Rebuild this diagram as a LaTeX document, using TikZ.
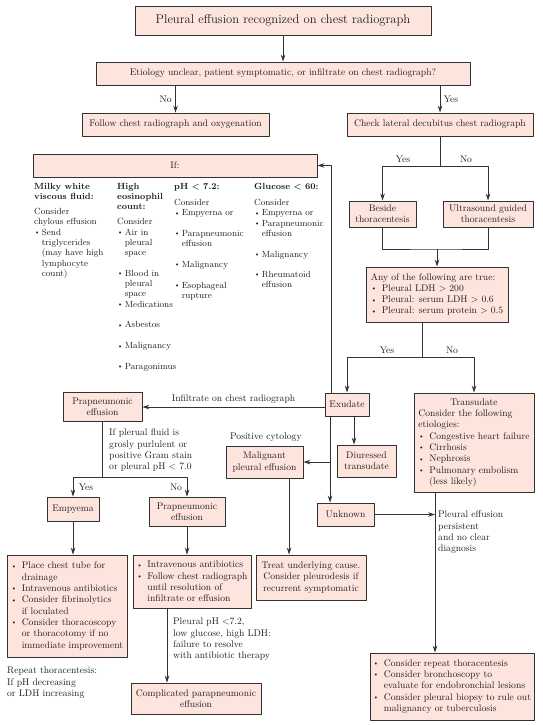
\documentclass[tikz,border=0pt]{standalone}
\usepackage{xcolor}
\usetikzlibrary{arrows.meta}
\definecolor{boxfill}{RGB}{253,229,222}
\definecolor{boxline}{RGB}{50,50,50}
\definecolor{ink}{RGB}{30,30,30}
\newcommand\boxfont{\fontsize{9.6}{11.3}\selectfont}
\newcommand\colfont{\fontsize{8.9}{10.3}\selectfont}
\newcommand\bul{\raisebox{.15ex}{\scriptsize\textbullet}\enspace}
\newcommand\ind{\hphantom{\bul}}
\newcommand\cbul{\raisebox{.15ex}{\scriptsize\textbullet}\,}
\newcommand\cind{\hphantom{\cbul}}
\begin{document}
\begin{tikzpicture}[x=1pt, y=-1pt, >={Stealth[length=7pt, width=4.6pt]}, line join=round, font=\boxfont, text=ink]
	\tikzset{box/.style={draw=boxline, fill=boxfill, line width=.95pt, inner sep=2pt, align=center},
		conn/.style={draw=boxline, line width=.95pt},
		txt/.style={inner sep=0pt, align=left, anchor=north west},
		coltxt/.style={txt, font=\colfont}}
	\useasboundingbox (0,0) rectangle (543,725);
	\node[box, minimum width=296pt, minimum height=29pt, font=\fontsize{12.6}{15}\selectfont] (title) at (283,20.5) {Pleural effusion recognized on chest radiograph};
	\node[box, minimum width=374pt, minimum height=23pt] (etio) at (283,73.5) {Etiology unclear, patient symptomatic, or infiltrate on chest radiograph?};
	\node[box, minimum width=187pt, minimum height=23pt] (follow) at (175.5,124.5) {Follow chest radiograph and oxygenation};
	\node[box, minimum width=186pt, minimum height=23pt] (check) at (440,124.5) {Check lateral decubitus chest radiograph};
	\node[box, minimum width=284pt, minimum height=23pt] (iff) at (175,165.5) {If:};
	\node[box, minimum width=67pt, minimum height=26pt] (beside) at (382.5,214) {Beside\\thoracentesis};
	\node[box, minimum width=90pt, minimum height=26pt] (ultra) at (488,214) {Ultrasound guided\\thoracentesis};
	\node[box, minimum width=142pt, minimum height=55pt, align=left] (any) at (437,294.5) {Any of the following are true:\\\bul Pleural LDH > 200\\\bul Pleural: serum LDH > 0.6\\\bul Pleural: serum protein > 0.5};
	\node[box, minimum width=44pt, minimum height=23pt] (exud) at (347,404.5) {Exudate};
	\node[box, minimum width=120pt, minimum height=99pt] (trans) at (474,442.5) {\begin{tabular}{@{}l@{}}\multicolumn{1}{@{}c@{}}{Transudate}\\Consider the following\\etiologies:\\\bul Congestive heart failure\\\bul Cirrhosis\\\bul Nephrosis\\\bul Pulmonary embolism\\\ind (less likely)\end{tabular}};
	\node[box, minimum width=79pt, minimum height=29pt] (prap) at (102.5,407) {Prapneumonic\\effusion};
	\node[box, minimum width=59pt, minimum height=32pt] (diur) at (366.5,461) {Diuressed\\transudate};
	\node[box, minimum width=77pt, minimum height=32pt] (malig) at (264.5,462) {Malignant\\pleural effusion};
	\node[box, minimum width=57pt, minimum height=23pt] (unkn) at (345.5,514.5) {Unknown};
	\node[box, minimum width=52pt, minimum height=24pt] (empy) at (73,509) {Empyema};
	\node[box, minimum width=76pt, minimum height=29pt] (prap2) at (187,511.5) {Prapneumonic\\effusion};
	\node[box, minimum width=120pt, minimum height=102pt, align=left] (place) at (67,606) {\bul Place chest tube for\\\ind drainage\\\bul Intravenous antibiotics\\\bul Consider fibrinolytics\\\ind if loculated\\\bul Consider thoracoscopy\\\ind or thoracotomy if no\\\ind immediate improvement};
	\node[box, minimum width=118pt, minimum height=53pt, align=left] (iv) at (192,581.5) {\bul Intravenous antibiotics\\\bul Follow chest radiograph\\\ind until resolution of\\\ind infiltrate or effusion};
	\node[box, minimum width=110pt, minimum height=45pt] (treat) at (311,577.5) {Treat underlying cause.\\Consider pleurodesis if\\recurrent symptomatic};
	\node[box, minimum width=164pt, minimum height=67pt, align=left] (final) at (452,686.5) {\bul Consider repeat thoracentesis\\\bul Consider bronchoscopy to\\\ind evaluate for endobronchial lesions\\\bul Consider pleural biopsy to rule out\\\ind malignancy or tuberculosis};
	\node[box, minimum width=130pt, minimum height=31pt] (compl) at (196,698.5) {Complicated parapneumonic\\effusion};

	\node[coltxt] (milky) at (34,183) {\textbf{Milky white}\\\textbf{viscous fluid:}\\[4.7pt]Consider\\chylous effusion\\\cbul Send\\\cind triglycerides\\\cind (may have high\\\cind lymphocyte\\\cind count)};
	\node[coltxt] (eosin) at (117,183) {\textbf{High}\\\textbf{eosinophil}\\\textbf{count:}\\[4.7pt]Consider\\\cbul Air in\\\cind pleural\\\cind space\\[10pt]\cbul Blood in\\\cind pleural\\\cind space\\\cbul Medications\\[10.5pt]\cbul Asbestos\\[10.5pt]\cbul Malignancy\\[10.5pt]\cbul Paragonimus};
	\node[coltxt] (lowph) at (174,183) {\textbf{pH < 7.2:}\\[5.7pt]Consider\\\cbul Empyerna or\\[10.5pt]\cbul Parapneumonic\\\cind effusion\\[10.5pt]\cbul Malignancy\\[10.5pt]\cbul Esophageal\\\cind rupture};
	\node[coltxt] (lowglu) at (254,183) {\textbf{Glucose < 60:}\\[5.7pt]Consider\\\cbul Empyerna or\\\cbul Parapneumonic\\\cind effusion\\[10.5pt]\cbul Malignancy\\[10pt]\cbul Rheumatoid\\\cind effusion};

	\node[txt] (grosly) at (109,429) {If plerual fluid is\\grosly purlulent or\\positive Gram stain\\or pleural pH < 7.0};
	\node[txt] (cyto) at (230,433) {Positive cytology};
	\node[txt] (persist) at (438,511) {Pleural effusion\\persistent\\and no clear\\diagnosis};
	\node[txt] (failure) at (173,618) {Pleural pH <7.2,\\low glucose, high LDH:\\failure to resolve\\with antibiotic therapy};
	\node[txt] (repeat) at (7,667) {Repeat thoracentesis:\\If pH decreasing\\or LDH increasing};

	\draw[conn, ->] (title) -- (etio);
	\draw[conn, ->] (follow.north |- etio.south) -- node[left] {No} (follow.north);
	\draw[conn, ->] (check.north |- etio.south) -- node[right] {Yes} (check.north);
	\coordinate (s1) at (441,166);
	\draw[conn] (check.south) -- (check.south |- s1);
	\draw[conn, ->] (check.south |- s1) -| (beside.north);
	\draw[conn, ->] (check.south |- s1) -| (ultra.north);
	\node (yes1) at (403,159) {Yes};
	\node (no1) at (466,159) {No};
	\coordinate (j1) at (437,249);
	\draw[conn] (beside.south) |- (j1) -| (ultra.south);
	\draw[conn, ->] (any.north |- j1) -- (any.north);
	\coordinate (a1) at ([xshift=-15pt]any.south);
	\coordinate (s2) at (422,357);
	\draw[conn] (a1) -- (a1 |- s2);
	\draw[conn, ->] (a1 |- s2) -| (exud.north);
	\draw[conn, ->] (a1 |- s2) -| (trans.north);
	\node (yes2) at (387,350) {Yes};
	\node (no2) at (452,350) {No};

	\draw[conn, ->] (exud.west |- prap.east) -- node[above] {Infiltrate on chest radiograph} (prap.east);
	\draw[conn, ->] ([xshift=-16pt]exud.north) |- (iff.east);
	\coordinate (e1) at ([xshift=-17pt]exud.south);
	\coordinate (e2) at ([xshift=7pt]exud.south);
	\draw[conn, ->] (e1) -- (e1 |- unkn.north);
	\draw[conn, ->] (e1 |- malig.east) -- (malig.east);
	\draw[conn, ->] (e2) -- (e2 |- diur.north);
	\coordinate (m1) at ([xshift=24.5pt]malig.south);
	\draw[conn, ->] (m1) -- (m1 |- treat.north);
	\coordinate (t1) at ([xshift=-39pt]trans.south);
	\draw[conn, ->] (t1) -- (t1 |- final.north);
	\draw[conn, ->] (unkn.east) -- (unkn.east -| t1);

	\coordinate (j2) at (103,477);
	\draw[conn] (prap.south) -- (prap.south |- j2);
	\draw[conn, ->] (prap.south |- j2) -| (empy.north);
	\draw[conn, ->] (prap.south |- j2) -| (prap2.north);
	\node (yes3) at (86,487) {Yes};
	\node (no3) at (176,487) {No};
	\draw[conn, ->] (empy.south) -- (empy.south |- place.north);
	\draw[conn, ->] (prap2.south) -- (prap2.south |- iv.north);
	\coordinate (i1) at ([xshift=-25pt]iv.south);
	\draw[conn, ->] (i1) -- (i1 |- compl.north);
\end{tikzpicture}
\end{document}
